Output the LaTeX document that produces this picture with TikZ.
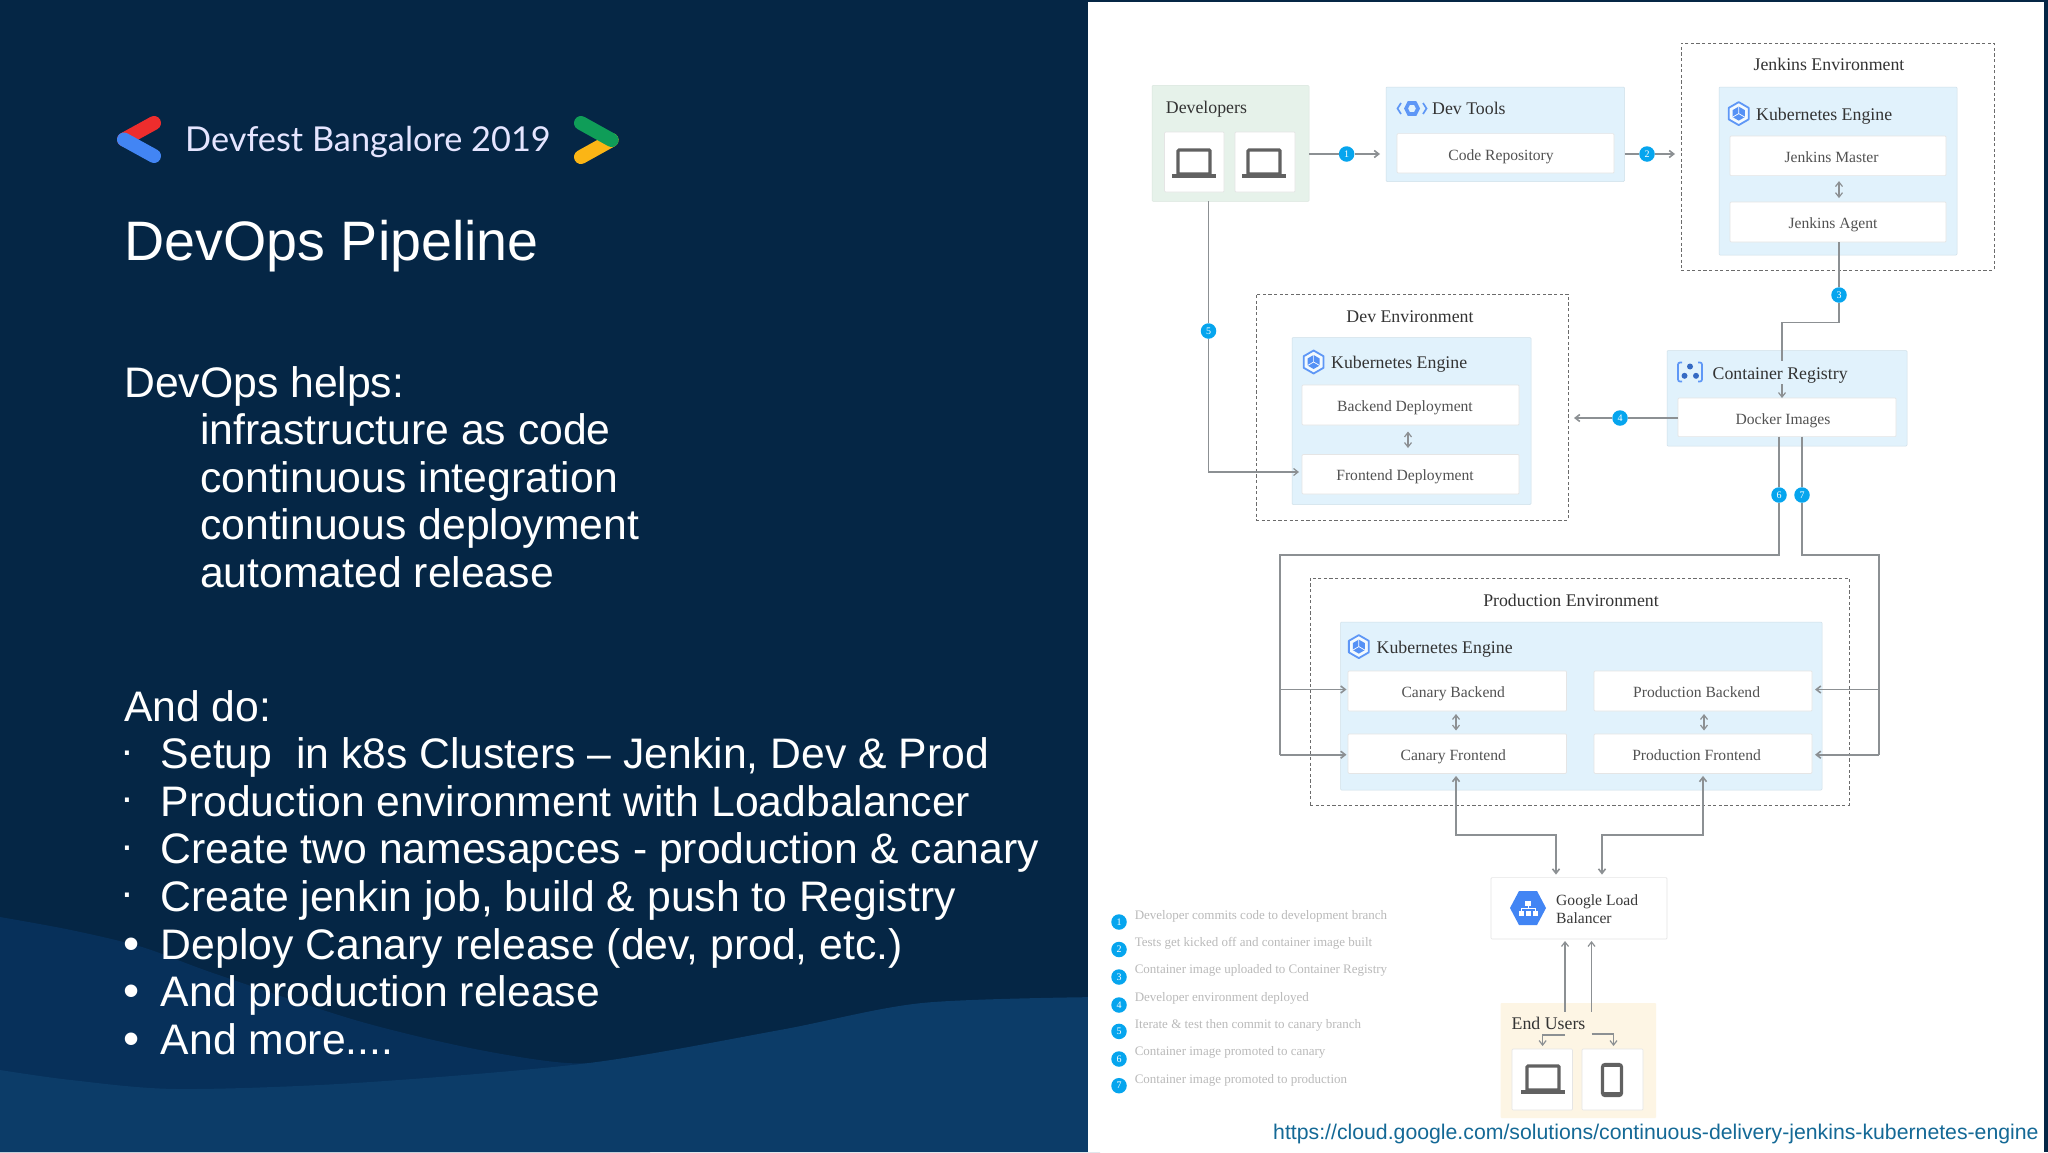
\documentclass[tikz,border=0pt]{standalone}
\usepackage{fontspec}
\usetikzlibrary{arrows.meta,shapes.geometric}
\setmainfont{Liberation Sans}
\newfontfamily\dgm{Liberation Serif}
\newfontfamily\logof{Lato}
\definecolor{bgdark}{HTML}{052645}
\definecolor{bgmid}{HTML}{07305A}
\definecolor{bglow}{HTML}{0C3C68}
\definecolor{kblue}{HTML}{E1F2FC}
\definecolor{kgreen}{HTML}{E6F2EA}
\definecolor{kcream}{HTML}{FDF5E4}
\definecolor{lineg}{HTML}{8C9093}
\definecolor{gblue}{HTML}{4285F4}
\definecolor{numb}{HTML}{06A5EE}
\definecolor{icong}{HTML}{616161}
\newcommand{\fsz}[1]{\fontsize{#1}{#1}\selectfont}
\tikzset{
  x=1pt,y=-1pt,
  >={Straight Barb[length=4.5pt,width=7pt]},
  boxbase/.style={inner sep=0pt,outer sep=0pt,rounded corners=1pt},
  bluebox/.style={boxbase,fill=kblue,draw=kblue!92!black,line width=0.5pt},
  greenbox/.style={boxbase,fill=kgreen,draw=kgreen!95!black,line width=0.5pt},
  creambox/.style={boxbase,fill=kcream},
  card/.style={boxbase,fill=white,draw=black!10,line width=0.7pt,font=\dgm\fsz{15.6},text=black!68,text height=14pt,text depth=0.6pt},
  envbox/.style={boxbase,rounded corners=0pt,draw=black!58,line width=0.9pt,dash pattern=on 3.2pt off 2.4pt},
  title/.style={font=\dgm\fsz{17.8},text=black!80,inner sep=0pt},
  conn/.style={draw=lineg,line width=1.6pt},
  thinconn/.style={draw=lineg,line width=1.2pt},
  num/.style={circle,fill=numb,text=white,inner sep=0pt,minimum size=15.5pt,font=\dgm\fsz{10}},
  legend/.style={font=\dgm\fsz{13},text=black!27,inner sep=0pt,anchor=mid west},
  head/.style={text=white,font=\fsz{42.7},inner sep=0pt,anchor=base west},
  bul/.style={text=white,inner sep=0pt,anchor=base},
  laptop/.pic={
    \draw[icong,line width=3.2pt,rounded corners=1pt] (-16,0) rectangle (16,-24);
    \fill[icong] (-22,0) rectangle (22,3.8);
  },
  phone/.pic={
    \draw[icong,line width=3.2pt,rounded corners=2.5pt] (-9.5,-15.5) rectangle (9.5,15.5);
    \fill[icong] (-9.5,-15.5) rectangle (9.5,-13);
    \fill[icong] (-9.5,11.5) rectangle (9.5,15.5);
  },
  kube/.pic={
    \draw[gblue!85,line width=1.8pt,line join=round,fill=white!60!kblue] (30:11.5) -- (90:11.5) -- (150:11.5) -- (210:11.5) -- (270:11.5) -- (330:11.5) -- cycle;
    \fill[gblue!90] (90:7) -- (150:7) -- (210:7) -- (270:7) -- (330:7) -- (30:7) -- cycle;
    \draw[white,line width=0.7pt] (150:7) -- (0,0) -- (30:7) (0,0) -- (270:7);
  },
  devtool/.pic={
    \draw[gblue!85,line width=3.6pt] (0:6) -- (60:6.4) -- (120:6.4) -- (180:6) -- (240:6.4) -- (300:6.4) -- cycle;
    \draw[gblue!85,line width=1.7pt] (-11,-5.5) -- (-14.5,0) -- (-11,5.5);
    \draw[gblue!85,line width=1.7pt] (11,-5.5) -- (14.5,0) -- (11,5.5);
  },
  registry/.pic={
    \draw[gblue!85,line width=1.7pt,rounded corners=2pt] (-8,-9.5) -- (-12,-9.5) -- (-12,9.5) -- (-8,9.5);
    \draw[gblue!85,line width=1.7pt,rounded corners=2pt] (8,-9.5) -- (12,-9.5) -- (12,9.5) -- (8,9.5);
    \fill[gblue!80!black] (0,-5.5) circle (3);
    \fill[gblue!80!black] (-5.5,3.8) circle (3);
    \fill[gblue!80!black] (6,3.8) circle (3);
  },
  balancer/.pic={
    \fill[gblue] (-18,0) -- (-9,-17) -- (9,-17) -- (18,0) -- (9,17) -- (-9,17) -- cycle;
    \fill[white] (-3,-7) rectangle (3,-2.5);
    \draw[white,line width=0.9pt] (0,-2.5) -- (0,0.5) (-7,3) -- (-7,0.5) -- (7,0.5) -- (7,3);
    \fill[white] (-9.5,3) rectangle (-4.5,7.5);
    \fill[white] (-2.5,3) rectangle (2.5,7.5);
    \fill[white] (4.5,3) rectangle (9.5,7.5);
  }
}
\begin{document}
\begin{tikzpicture}
\useasboundingbox (0,0) rectangle (2048,1152);
% background
\fill[bgdark] (0,0) rectangle (2048,1152);
\fill[bgmid] plot[smooth] coordinates {(0,917) (71,930) (142,947) (213,973) (355,1020) (470,1048) (567,1063) (650,1060)} -- (650,1152) -- (0,1152) -- cycle;
\fill[bglow] plot[smooth] coordinates {(0,1070) (71,1080) (177,1089) (355,1083) (589,1063) (780,1030) (922,1003) (1100,997)} -- (1100,1152) -- (0,1152) -- cycle;
\fill[white] (1088,2) rectangle (2043.5,1152);
% logo
\draw[line width=14pt,line cap=round,color={rgb,255:red,238;green,45;blue,45}] (154,123) -- (124,139.5);
\draw[line width=14pt,line cap=round,color=gblue] (124,139.5) -- (154,156);
\draw[line width=14pt,line cap=round,color={rgb,255:red,251;green,181;blue,21}] (581,157) -- (611.6,140);
\draw[line width=14pt,line cap=round,color={rgb,255:red,15;green,157;blue,88}] (581,123) -- (611.6,140);
\node[inner sep=0pt,anchor=base west,text=white!90!blue,font=\logof\fsz{34.3}] (devfest) at (185,151.5) {Devfest Bangalore 2019};
\node[inner sep=0pt,anchor=base west,text=white,font=\fsz{55.6}] (pagetitle) at (124.5,260.6) {DevOps Pipeline};
% left text
\node[head] (t1) at (124,397) {DevOps helps:};
\node[head] (t2) at (200,444.9) {infrastructure as code};
\node[head] (t3) at (200,492.3) {continuous integration};
\node[head] (t4) at (200,539.8) {continuous deployment};
\node[head] (t5) at (200,587.3) {automated release};
\node[head] (t6) at (124,721.3) {And do:};
\node[head] (t7) at (160.6,768.8) {Setup\ \ in k8s Clusters – Jenkin, Dev \& Prod};
\node[head] (t8) at (160.6,816.4) {Production environment with Loadbalancer};
\node[head] (t9) at (160.6,863.9) {Create two namesapces - production \& canary};
\node[head] (t10) at (160.6,911.5) {Create jenkin job, build \& push to Registry};
\node[head] (t11) at (160.6,959) {Deploy Canary release (dev, prod, etc.)};
\node[head] (t12) at (160.6,1006.6) {And production release};
\node[head] (t13) at (160.6,1054.1) {And more....};
\foreach \n/\yy in {a/768,b/815.6,c/863.1,d/910.7}
  \node[bul,font=\fsz{41.5}] (s\n) at (127,\yy-4) {·};
\foreach \n/\yy in {e/958.2,f/1005.8,g/1053.3}
  \node[bul,font=\fsz{46}] (s\n) at (131.3,\yy+1) {•};
% environments
\node[envbox,minimum width=313pt,minimum height=227pt] (jenv) at (1837.5,156.5) {};
\node[envbox,minimum width=312pt,minimum height=226pt] (denv) at (1412,407) {};
\node[envbox,minimum width=539pt,minimum height=227pt] (penv) at (1579.5,691.5) {};
% panels
\node[greenbox,minimum width=157pt,minimum height=116pt] (devs) at (1230.5,143.4) {};
\node[card,minimum width=59.5pt,minimum height=60pt] (dc1) at (1194.25,162) {};
\node[card,minimum width=60pt,minimum height=60pt] (dc2) at (1265,162) {};
\node[bluebox,minimum width=238.5pt,minimum height=94.5pt] (tools) at (1505.25,134.25) {};
\node[card,minimum width=217pt,minimum height=39.4pt] (repo) at (1505.5,153.3) {\kern-9pt Code Repository};
\node[bluebox,minimum width=238pt,minimum height=168pt] (jk) at (1838,171) {};
\node[card,minimum width=216pt,minimum height=39.6pt] (jm) at (1838,155.8) {\kern-12.8pt Jenkins Master};
\node[card,minimum width=216pt,minimum height=40pt] (ja) at (1838,222) {\kern-10pt Jenkins Agent};
\node[bluebox,minimum width=239pt,minimum height=167pt] (dk) at (1411.5,421) {};
\node[card,minimum width=217pt,minimum height=40pt] (bd) at (1410.5,405) {\kern-11pt Backend Deployment};
\node[card,minimum width=217pt,minimum height=39.5pt] (fd) at (1410.5,474.25) {\kern-11pt Frontend Deployment};
\node[bluebox,minimum width=240pt,minimum height=95.5pt] (cr) at (1787,398.25) {};
\node[card,minimum width=218pt,minimum height=38.6pt] (di) at (1787,417.3) {\kern-8pt Docker Images};
\node[bluebox,minimum width=481.5pt,minimum height=168pt] (pk) at (1581.25,706) {};
\node[card,minimum width=218.5pt,minimum height=40pt] (cb) at (1457.25,691) {\kern-8pt Canary Backend};
\node[card,minimum width=218.5pt,minimum height=39.4pt] (cf) at (1457.25,753.7) {\kern-8pt Canary Frontend};
\node[card,minimum width=218pt,minimum height=40pt] (pb) at (1703,691) {\kern-12.8pt Production Backend};
\node[card,minimum width=218pt,minimum height=39.4pt] (pf) at (1703,753.7) {\kern-12.8pt Production Frontend};
\node[card,minimum width=176pt,minimum height=61.4pt] (lb) at (1579,908.3) {};
\node[creambox,minimum width=155.5pt,minimum height=115pt] (eu) at (1578.25,1060.5) {};
\node[card,minimum width=60.5pt,minimum height=61pt] (uc1) at (1542.25,1079.5) {};
\node[card,minimum width=61pt,minimum height=61pt] (uc2) at (1612.5,1079.5) {};
% titles
\node[title,anchor=mid west] (tdevs) at (1165.7,111) {Developers};
\node[title,anchor=mid west] (ttools) at (1432,112) {Dev Tools};
\node[title,anchor=mid] (tjenv) at (1829,68) {Jenkins Environment};
\node[title,anchor=mid west] (tjk) at (1756,118.2) {Kubernetes Engine};
\node[title,anchor=mid] (tdenv) at (1410,320) {Dev Environment};
\node[title,anchor=mid west] (tdk) at (1331,366.1) {Kubernetes Engine};
\node[title,anchor=mid west] (tcr) at (1712.5,377) {Container Registry};
\node[title,anchor=mid] (tpenv) at (1571,604) {Production Environment};
\node[title,anchor=mid west] (tpk) at (1376.5,650.8) {Kubernetes Engine};
\node[title,anchor=mid west] (teu) at (1511.5,1026.5) {End Users};
\node[font=\dgm\fsz{15.6},text=black!78,inner sep=0pt,anchor=mid west] (tlb1) at (1556,902.5) {Google Load};
\node[font=\dgm\fsz{15.6},text=black!78,inner sep=0pt,anchor=mid west] (tlb2) at (1556,921) {Balancer};
% icons
\pic at (1194,174) {laptop};
\pic at (1264,174) {laptop};
\pic at (1543,1090) {laptop};
\pic at (1612,1080) {phone};
\pic at (1412,108.5) {devtool};
\pic at (1738.7,113.6) {kube};
\pic at (1313.6,362) {kube};
\pic at (1358.8,646.6) {kube};
\pic at (1690,372) {registry};
\pic at (1528,908) {balancer};
% numbered markers
\node[num] (n1) at (1346.6,154) {1};
\node[num] (n2) at (1647,154) {2};
\node[num] (n3) at (1839,295) {3};
\node[num] (n4) at (1620,418) {4};
\node[num] (n5) at (1208.5,331) {5};
\node[num] (n6) at (1779,495) {6};
\node[num] (n7) at (1802,495) {7};
% bend points
\coordinate (b3a) at (1839,322.3);
\coordinate (b3b) at (1782,322.3);
\coordinate (b3c) at (1782,361);
\coordinate (b3d) at (1782,384);
\coordinate (b5) at (1208.5,472);
\coordinate (b6a) at (1779,555);
\coordinate (b6b) at (1280,555);
\coordinate (b6c) at (1280,689.5);
\coordinate (b6d) at (1280,754.7);
\coordinate (b7a) at (1802,555);
\coordinate (b7b) at (1879,555);
\coordinate (b7c) at (1879,689.5);
\coordinate (b7d) at (1879,754.7);
\coordinate (bla) at (1456,835);
\coordinate (blb) at (1556,835);
\coordinate (blc) at (1703,835);
\coordinate (bld) at (1602,835);
\coordinate (eua) at (1565,1011.5);
\coordinate (eub) at (1591.5,1011.5);
\coordinate (euc) at (1565,1035);
\coordinate (eud) at (1542.6,1035);
\coordinate (eue) at (1591.5,1034);
\coordinate (euf) at (1613.5,1034);
% connectors
\draw[conn] (devs.east |- n1) -- (n1);
\draw[conn,->,shorten >=6pt] (n1) -- (tools.west |- n1);
\draw[conn] (tools.east |- n2) -- (n2);
\draw[conn,->,shorten >=6pt] (n2) -- (jenv.west |- n2);
\draw[conn] (ja.south -| n3) -- (n3);
\draw[conn] (n3) -- (b3a) -- (b3b) -- (b3c);
\draw[thinconn,->] (b3d) -- (b3d |- di.north);
\draw[conn] (di.west |- n4) -- (n4);
\draw[conn,->,shorten >=6pt] (n4) -- (denv.east |- n4);
\draw[thinconn] (devs.south -| n5) -- (n5);
\draw[thinconn,->,shorten >=3pt] (n5) -- (b5) -- (fd.west |- b5);
\draw[thinconn] (di.south -| n6) -- (n6);
\draw[thinconn] (di.south -| n7) -- (n7);
\draw[conn] (n6) -- (b6a) -- (b6b) -- (b6d);
\draw[conn,->,shorten >=1.5pt] (b6c) -- (cb.west |- b6c);
\draw[conn,->,shorten >=1.5pt] (b6d) -- (cf.west |- b6d);
\draw[conn] (n7) -- (b7a) -- (b7b) -- (b7d);
\draw[conn,->,shorten >=3pt] (b7c) -- (pb.east |- b7c);
\draw[conn,->,shorten >=3pt] (b7d) -- (pf.east |- b7d);
\draw[thinconn,<->] (jm.south -| n3) ++(0,5.5) -- ++(0,17);
\draw[thinconn,<->] (1408,431.5) -- (1408,448);
\draw[thinconn,<->] (1456,714) -- (1456,730.5);
\draw[thinconn,<->] (1704,714) -- (1704,730.5);
\draw[conn,<->,shorten <=2.5pt,shorten >=3pt] (cf.south -| bla) -- (bla) -- (blb) -- (blb |- lb.north);
\draw[conn,<->,shorten <=2.5pt,shorten >=3pt] (pf.south -| blc) -- (blc) -- (bld) -- (bld |- lb.north);
\draw[thinconn,->,shorten >=2pt] (eua) -- (eua |- lb.south);
\draw[thinconn,->,shorten >=2pt] (eub) -- (eub |- lb.south);
\draw[thinconn,->] (euc) -- (eud) -- (1542.6,1046);
\draw[thinconn,->] (eue) -- (euf) -- (1613.5,1046);
% legend
\foreach \i/\yy/\ty/\txt in {1/922/916.8/Developer commits code to development branch,
  2/949.5/944.3/Tests get kicked off and container image built,
  3/977/971.3/Container image uploaded to Container Registry,
  4/1005/998.8/Developer environment deployed,
  5/1031.4/1026.3/Iterate \& test then commit to canary branch,
  6/1059/1053.3/Container image promoted to canary,
  7/1085.7/1080.7/Container image promoted to production}{
  \node[num] (leg\i) at (1119,\yy) {\i};
  \node[legend] (legt\i) at (1134.6,\ty) {\txt};
}
\node[inner sep=0pt,anchor=mid west,text={rgb,255:red,20;green,105;blue,150},font=\fsz{21.25}] (url) at (1273,1136.5) {https://cloud.google.com/solutions/continuous-delivery-jenkins-kubernetes-engine};
\end{tikzpicture}
\end{document}
